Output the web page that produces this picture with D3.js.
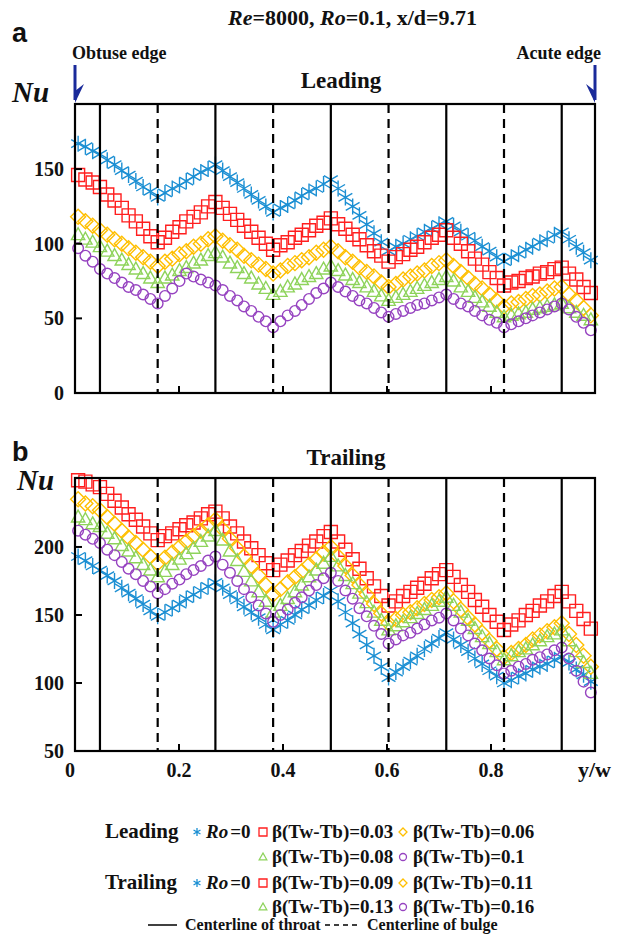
<!DOCTYPE html>
<html>
<head>
<meta charset="utf-8">
<script src="https://cdn.jsdelivr.net/npm/d3@7"></script>
<style>
  body { margin: 0; background: #fff; }
  svg text { font-family: "Liberation Serif", "Times New Roman", serif; font-weight: bold; fill: #111; }
</style>
</head>
<body>
<div id="chart"></div>
<script>
/* Data */
// sampling positions along the passage width (y/w)
const yw = [0.006,0.020,0.034,0.048,0.062,0.076,0.090,0.103,0.117,0.131,0.145,0.159,
  0.173,0.187,0.201,0.214,0.228,0.242,0.256,0.270,0.284,0.298,0.312,0.325,
  0.339,0.353,0.367,0.381,0.395,0.409,0.423,0.436,0.450,0.464,0.478,0.492,
  0.506,0.520,0.534,0.547,0.561,0.575,0.589,0.603,0.617,0.631,0.645,0.658,
  0.672,0.686,0.700,0.714,0.728,0.742,0.756,0.769,0.783,0.797,0.811,0.825,
  0.839,0.853,0.867,0.880,0.894,0.908,0.922,0.936,0.950,0.964,0.978,0.992];

// Leading surface
const leadRo0 = [167,165,162,160,156,153,149,146,142,138,135,131,134,137,139,142,145,148,150,153,
  149,145,141,137,133,129,125,121,124,126,129,132,135,137,140,143,137,131,125,119,113,107,101,95,
  98,100,103,105,108,110,113,115,112,108,105,102,98,95,91,88,91,93,96,98,101,103,106,108,103,98,94,89];
const leadB003 = [146,143,141,138,133,129,124,119,115,110,105,101,104,108,111,115,118,121,125,128,
  124,120,116,112,108,104,100,96,99,101,104,106,109,112,114,117,113,110,106,103,99,95,92,88,
  91,93,96,98,101,104,106,109,104,100,95,90,86,81,77,72,74,75,77,78,80,81,83,84,80,76,71,67];
const leadB006 = [118,115,112,109,106,103,100,97,94,91,88,85,88,90,93,95,98,100,103,105,
  102,99,96,92,89,86,83,80,82,85,87,89,91,94,96,98,95,91,88,84,81,78,74,71,
  73,76,78,80,82,85,87,89,85,81,77,73,70,66,62,58,60,61,63,65,66,68,70,71,66,62,57,52];
const leadB008 = [106,103,101,98,95,92,89,86,83,80,77,74,77,79,82,84,87,89,92,94,
  91,87,84,80,77,73,70,66,68,71,73,76,78,80,83,85,82,79,76,74,71,68,65,62,
  64,66,68,70,72,74,76,78,75,71,68,64,61,58,54,51,52,53,54,56,57,58,59,60,57,54,52,49];
const leadB010 = [97,92,88,83,80,77,74,71,69,66,63,60,65,70,75,80,78,76,74,72,
  69,65,62,58,55,51,48,44,48,52,55,59,63,67,70,74,71,68,65,62,60,57,54,51,
  53,55,57,59,60,62,64,66,63,60,58,55,52,49,47,44,46,48,50,52,54,56,58,60,56,51,47,42];

// Trailing surface
const trailRo0 = [193,190,186,183,179,175,170,166,162,158,153,149,152,155,158,162,165,168,171,174,
  170,165,161,156,152,148,143,139,143,146,150,154,157,161,164,168,160,152,144,136,128,120,112,104,
  108,112,116,120,125,129,133,137,132,128,123,118,114,109,105,100,102,105,107,110,112,114,117,119,115,110,106,101];
const trailB009 = [249,248,246,244,239,234,229,224,220,215,210,205,208,210,213,216,218,221,224,226,
  221,215,210,204,199,194,188,183,187,190,194,197,201,204,208,211,204,198,191,184,177,171,164,157,
  160,164,167,170,173,177,180,183,178,172,167,161,156,150,145,139,143,146,150,153,157,160,164,167,160,153,147,140];
const trailB011 = [235,232,230,227,222,217,212,207,203,198,193,188,192,196,200,204,208,212,216,220,
  213,206,199,193,186,179,172,165,169,174,178,182,187,191,196,200,193,186,179,172,165,158,151,144,
  147,150,152,155,158,161,163,166,160,154,148,143,137,131,125,119,122,125,128,132,135,138,141,144,136,128,120,112];
const trailB013 = [222,220,217,215,210,206,201,197,192,187,183,178,182,187,191,195,199,204,208,212,
  205,197,190,182,175,167,160,152,157,162,167,172,178,183,188,193,186,179,173,166,159,152,146,139,
  142,145,148,151,154,157,160,163,157,152,146,140,134,129,123,117,120,123,125,128,131,134,136,139,131,123,115,107];
const trailB016 = [212,209,206,203,198,194,189,184,180,175,171,166,169,173,176,180,183,186,190,193,
  187,181,175,169,163,157,151,145,150,154,159,163,168,172,177,181,175,168,162,155,149,142,136,129,
  132,135,137,140,143,146,148,151,146,140,135,129,124,118,113,107,109,112,114,117,119,121,124,126,118,109,101,93];

// Geometry lines and ticks
const throats = [0.048, 0.270, 0.492, 0.714, 0.936];
const bulges = [0.159, 0.381, 0.603, 0.825];
const xTicks = [0.2, 0.4, 0.6, 0.8];
const xTickLabels = ["0", "0.2", "0.4", "0.6", "0.8"];
const leadTicks = [0, 50, 100, 150];
const trailTicks = [50, 100, 150, 200];

const markers = ["star", "square", "diamond", "triangle", "circle"];
const colors = ["#1b8fd3", "#ff1f1f", "#ffbf00", "#8ed35b", "#9643c0"];
const leadLabels = ["0.03", "0.06", "0.08", "0.1"];
const trailLabels = ["0.09", "0.11", "0.13", "0.16"];


/* Helpers */
function markerPath(type, s) {
  // Returns a path string centred on 0,0
  if (type == "star") {
    const a = s * 0.866, b = s * 0.5;
    return `M0,${-s}L0,${s}M${-a},${-b}L${a},${b}M${-a},${b}L${a},${-b}`;
  } else if (type == "square") {
    return `M${-s},${-s}H${s}V${s}H${-s}Z`;
  } else if (type == "diamond") {
    return `M0,${-s}L${s},0L0,${s}L${-s},0Z`;
  } else if (type == "triangle") {
    return `M0,${-s}L${s*0.95},${s*0.7}L${-s*0.95},${s*0.7}Z`;
  }
  return `M${s},0A${s},${s} 0 1,1 ${-s},0A${s},${s} 0 1,1 ${s},0Z`;
};

const plotSize = { star: 8, square: 6.5, diamond: 7.5, triangle: 7, circle: 5.3 };
const legSize = { star: 4, square: 4, diamond: 4, triangle: 4, circle: 3.5 };

const width = 619, height = 936;
const svg = d3.select("#chart").append("svg")
  .attr("width", width)
  .attr("height", height);

const x = d3.scaleLinear().domain([0, 1]).range([75, 595]);

function drawPanel(opts) {
  const y = d3.scaleLinear().domain(opts.domain).range([opts.bottom, opts.top]);
  const g = svg.append("g");

  // series
  opts.series.forEach(function(vals, k) {
    g.append("g")
      .selectAll("path")
      .data(vals)
      .join("path")
        .attr("transform", (d, i) => `translate(${x(yw[i])},${y(d)})`)
        .attr("d", markerPath(markers[k], plotSize[markers[k]]))
        .attr("fill", "none")
        .attr("stroke", colors[k])
        .attr("stroke-width", 1.4);
  });

  // throat / bulge centrelines
  g.selectAll(".throat").data(throats).join("line")
    .attr("x1", d => x(d)).attr("x2", d => x(d))
    .attr("y1", opts.top).attr("y2", opts.bottom)
    .attr("stroke", "#000").attr("stroke-width", 2.2);
  g.selectAll(".bulge").data(bulges).join("line")
    .attr("x1", d => x(d)).attr("x2", d => x(d))
    .attr("y1", opts.top).attr("y2", opts.bottom)
    .attr("stroke", "#000").attr("stroke-width", 2.2)
    .attr("stroke-dasharray", "9,6");

  // frame
  g.append("rect")
    .attr("x", x(0)).attr("y", opts.top)
    .attr("width", x(1) - x(0)).attr("height", opts.bottom - opts.top)
    .attr("fill", "none").attr("stroke", "#000").attr("stroke-width", 2.2);

  // y ticks (inside) and labels
  opts.ticks.forEach(function(t) {
    g.append("line")
      .attr("x1", x(0)).attr("x2", x(0) + 7)
      .attr("y1", y(t)).attr("y2", y(t))
      .attr("stroke", "#000").attr("stroke-width", 2);
    g.append("text")
      .attr("x", x(0) - 11).attr("y", y(t))
      .attr("dy", "0.35em")
      .attr("text-anchor", "end")
      .style("font-size", "20px")
      .text(t);
  });

  // x ticks (inside)
  xTicks.forEach(function(t) {
    g.append("line")
      .attr("x1", x(t)).attr("x2", x(t))
      .attr("y1", opts.bottom).attr("y2", opts.bottom - 7)
      .attr("stroke", "#000").attr("stroke-width", 2);
  });

  // panel titles
  g.append("text")
    .attr("x", opts.titleX).attr("y", opts.titleY)
    .attr("text-anchor", "middle")
    .style("font-size", "23px")
    .text(opts.title);
  g.append("text")
    .attr("x", opts.nuX).attr("y", opts.nuY)
    .style("font-size", "29px").style("font-style", "italic")
    .text("Nu");
  g.append("text")
    .attr("x", 12).attr("y", opts.letterY)
    .style("font-family", "'Liberation Sans', Arial, sans-serif")
    .style("font-size", "27px")
    .text(opts.letter);

  return y;
};


/* Main */
// Header
const title = svg.append("text").attr("x", 228).attr("y", 25).style("font-size", "22px");
title.append("tspan").style("font-style", "italic").text("Re");
title.append("tspan").text("=8000, ");
title.append("tspan").style("font-style", "italic").text("Ro");
title.append("tspan").text("=0.1, x/d=9.71");

svg.append("text").attr("x", 72).attr("y", 59).style("font-size", "18px").text("Obtuse edge");
svg.append("text").attr("x", 601).attr("y", 59).attr("text-anchor", "end")
  .style("font-size", "18px").text("Acute edge");

// edge arrows
[[x(0), 1], [x(1), -1]].forEach(function(a) {
  svg.append("line")
    .attr("x1", a[0]).attr("x2", a[0]).attr("y1", 65).attr("y2", 100)
    .attr("stroke", "#1a2a9a").attr("stroke-width", 3);
  svg.append("path")
    .attr("d", `M${a[0]},${103}L${a[0] + a[1]*9},${84}L${a[0]},${91}Z`)
    .attr("fill", "#1a2a9a");
});

drawPanel({
  top: 104, bottom: 393, domain: [0, 193.6], ticks: leadTicks,
  series: [leadRo0, leadB003, leadB006, leadB008, leadB010],
  title: "Leading", titleX: 341, titleY: 88,
  nuX: 12, nuY: 102, letter: "a", letterY: 42
});

drawPanel({
  top: 478, bottom: 751, domain: [50, 250.7], ticks: trailTicks,
  series: [trailRo0, trailB009, trailB011, trailB013, trailB016],
  title: "Trailing", titleX: 346, titleY: 465,
  nuX: 17, nuY: 490, letter: "b", letterY: 461
});

// x tick labels under panel b
xTickLabels.forEach(function(t, i) {
  const v = +t;
  svg.append("text")
    .attr("x", v == 0 ? x(0) - 5 : x(v)).attr("y", 777)
    .attr("text-anchor", "middle")
    .style("font-size", "20px")
    .text(t);
});
svg.append("text").attr("x", 578).attr("y", 777).style("font-size", "22px").text("y/w");


/* Legend */
function legendRow(yBase, items) {
  items.forEach(function(it) {
    svg.append("path")
      .attr("transform", `translate(${it.mx},${yBase - 6})`)
      .attr("d", markerPath(markers[it.k], legSize[markers[it.k]]))
      .attr("fill", "none").attr("stroke", colors[it.k])
      .attr("stroke-width", 1.3);
    const t = svg.append("text").attr("x", it.tx).attr("y", yBase).style("font-size", "19px");
    if (it.k == 0) {
      t.append("tspan").style("font-style", "italic").text("Ro");
      t.append("tspan").attr("dx", 2).text("=0");
    } else {
      t.text("β(Tw-Tb)=" + it.label);
    }
  });
};

[[838, 863, "Leading", leadLabels], [889, 913, "Trailing", trailLabels]].forEach(function(r) {
  svg.append("text").attr("x", 105).attr("y", r[0]).style("font-size", "21px").text(r[2]);
  legendRow(r[0], [
    { k: 0, mx: 197, tx: 206 },
    { k: 1, mx: 263, tx: 272, label: r[3][0] },
    { k: 2, mx: 403, tx: 413, label: r[3][1] }
  ]);
  legendRow(r[1], [
    { k: 3, mx: 263, tx: 272, label: r[3][2] },
    { k: 4, mx: 403, tx: 413, label: r[3][3] }
  ]);
});

svg.append("line").attr("x1", 148).attr("x2", 177).attr("y1", 925).attr("y2", 925)
  .attr("stroke", "#000").attr("stroke-width", 1.5);
svg.append("text").attr("x", 185).attr("y", 930).style("font-size", "16px").text("Centerline of throat");
svg.append("line").attr("x1", 325).attr("x2", 357).attr("y1", 925).attr("y2", 925)
  .attr("stroke", "#000").attr("stroke-width", 1.5).attr("stroke-dasharray", "5,4");
svg.append("text").attr("x", 367).attr("y", 930).style("font-size", "16px").text("Centerline of bulge");
</script>
</body>
</html>
